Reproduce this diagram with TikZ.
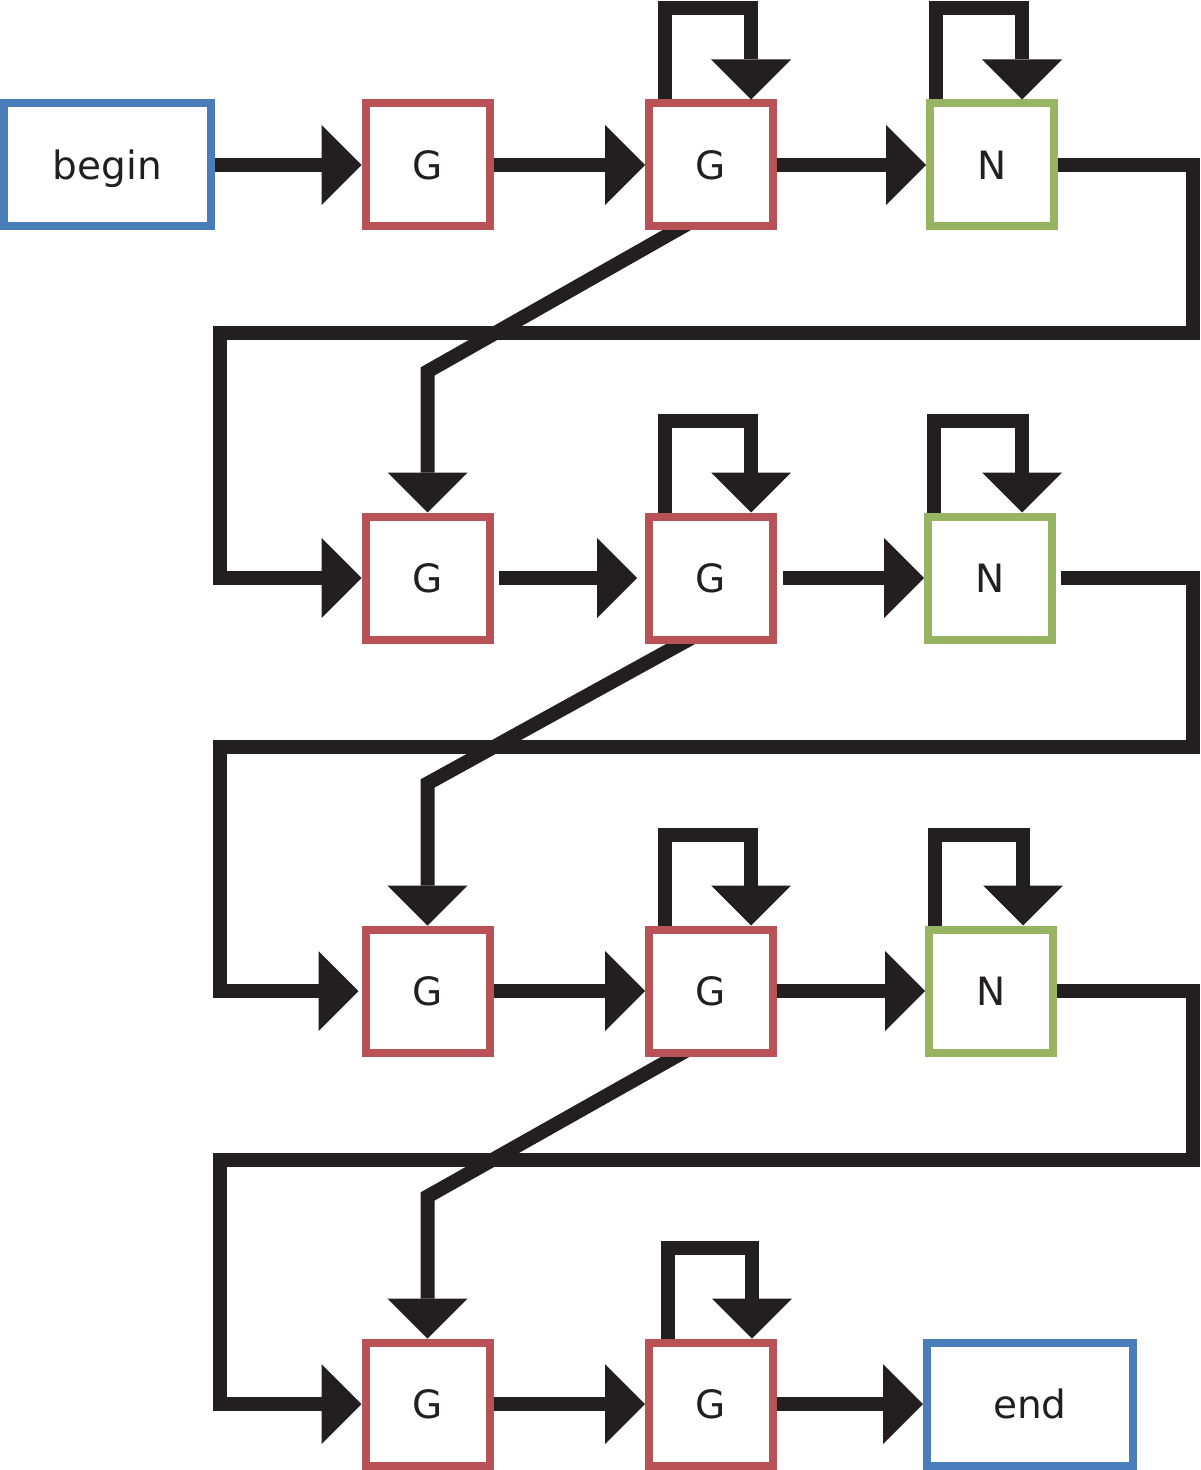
\documentclass[tikz,border=0pt]{standalone}
\usepackage{fontspec}
\setmainfont{DejaVu Sans}
\usetikzlibrary{arrows.meta, backgrounds}

\definecolor{boxblue}{RGB}{74,126,187}
\definecolor{boxred}{RGB}{185,82,86}
\definecolor{boxgreen}{RGB}{151,180,98}
\definecolor{arrowblack}{RGB}{35,31,32}

\begin{document}
\begin{tikzpicture}[x=0.5pt, y=-0.5pt,
    box/.style={draw, line width=4pt, fill=white, inner sep=0pt,
        minimum width=62pt, minimum height=61.5pt,
        text=arrowblack, text height=14.2pt, text depth=0pt,
        font=\fontsize{19.5pt}{20pt}\selectfont},
    gbox/.style={box, draw=boxred},
    nbox/.style={box, draw=boxgreen},
    termbox/.style={box, draw=boxblue, minimum width=103.5pt},
    flow/.style={draw=arrowblack, line width=7pt,
        -{Triangle[length=20pt, width=40pt, line width=0pt]}}]
    \useasboundingbox (0,0) rectangle (1200,1470);

    % Draw nodes
    \node[termbox] (begin) at (107.5,165) {begin};
    \node[gbox] (g11) at (427.5,165) {G};
    \node[gbox] (g12) at (711,165) {G};
    \node[nbox] (n13) at (992,165) {N};

    \node[gbox] (g21) at (427.5,578) {G};
    \node[gbox] (g22) at (711,578) {G};
    \node[nbox] (n23) at (990,578) {N};

    \node[gbox] (g31) at (427.5,991) {G};
    \node[gbox] (g32) at (711,991) {G};
    \node[nbox] (n33) at (991,991) {N};

    \node[gbox] (g41) at (427.5,1404) {G};
    \node[gbox] (g42) at (711,1404) {G};
    \node[termbox, minimum width=103pt] (end) at (1030,1404) {end};

    % Draw connections
    \draw[flow] (begin) -- (g11);
    \draw[flow] (g11) -- (g12);
    \draw[flow] (g12) -- (n13);
    \draw[flow, shorten <=2.5pt, shorten >=4pt] (g21) -- (g22);
    \draw[flow, shorten <=3pt] (g22) -- (n23);
    \draw[flow] (g31) -- (g32);
    \draw[flow] (g32) -- (n33);
    \draw[flow] (g41) -- (g42);
    \draw[flow] (g42) -- (end);

    % Self loops
    \draw[flow] ([xshift=10pt]g12.north west) -- ++(0,-91) -| ([xshift=-13pt]g12.north east);
    \draw[flow] ([xshift=5pt]n13.north west) -- ++(0,-91) -| ([xshift=-18pt]n13.north east);
    \draw[flow] ([xshift=10pt]g22.north west) -- ++(0,-91) -| ([xshift=-13pt]g22.north east);
    \draw[flow] ([xshift=5pt]n23.north west) -- ++(0,-91) -| ([xshift=-17pt]n23.north east);
    \draw[flow] ([xshift=10pt]g32.north west) -- ++(0,-91) -| ([xshift=-13pt]g32.north east);
    \draw[flow] ([xshift=5pt]n33.north west) -- ++(0,-91) -| ([xshift=-17pt]n33.north east);
    \draw[flow] ([xshift=11.5pt]g42.north west) -- ++(0,-91) -| ([xshift=-12.5pt]g42.north east);

    % Wrap to next row
    \draw[flow] (n13) -| (1193,333.5) -- (220,333.5) |- (g21);
    \draw[flow, shorten <=2.5pt, shorten >=1.5pt] (n23) -| (1193,746.5) -- (220,746.5) |- (g31);
    \draw[flow] (n33) -| (1193,1160) -- (220,1160) |- (g41);

    % Skip the N
    \begin{scope}[on background layer]
        \draw[flow] ([xshift=-10.5pt,yshift=4pt]g12.south) -- ([yshift=70.5pt]g21.north) -- (g21.north);
        \draw[flow] ([xshift=-7.5pt,yshift=4pt]g22.south) -- ([yshift=71pt]g31.north) -- (g31.north);
        \draw[flow] ([xshift=-10.5pt,yshift=4pt]g32.south) -- ([yshift=71pt]g41.north) -- (g41.north);
    \end{scope}
\end{tikzpicture}
\end{document}
